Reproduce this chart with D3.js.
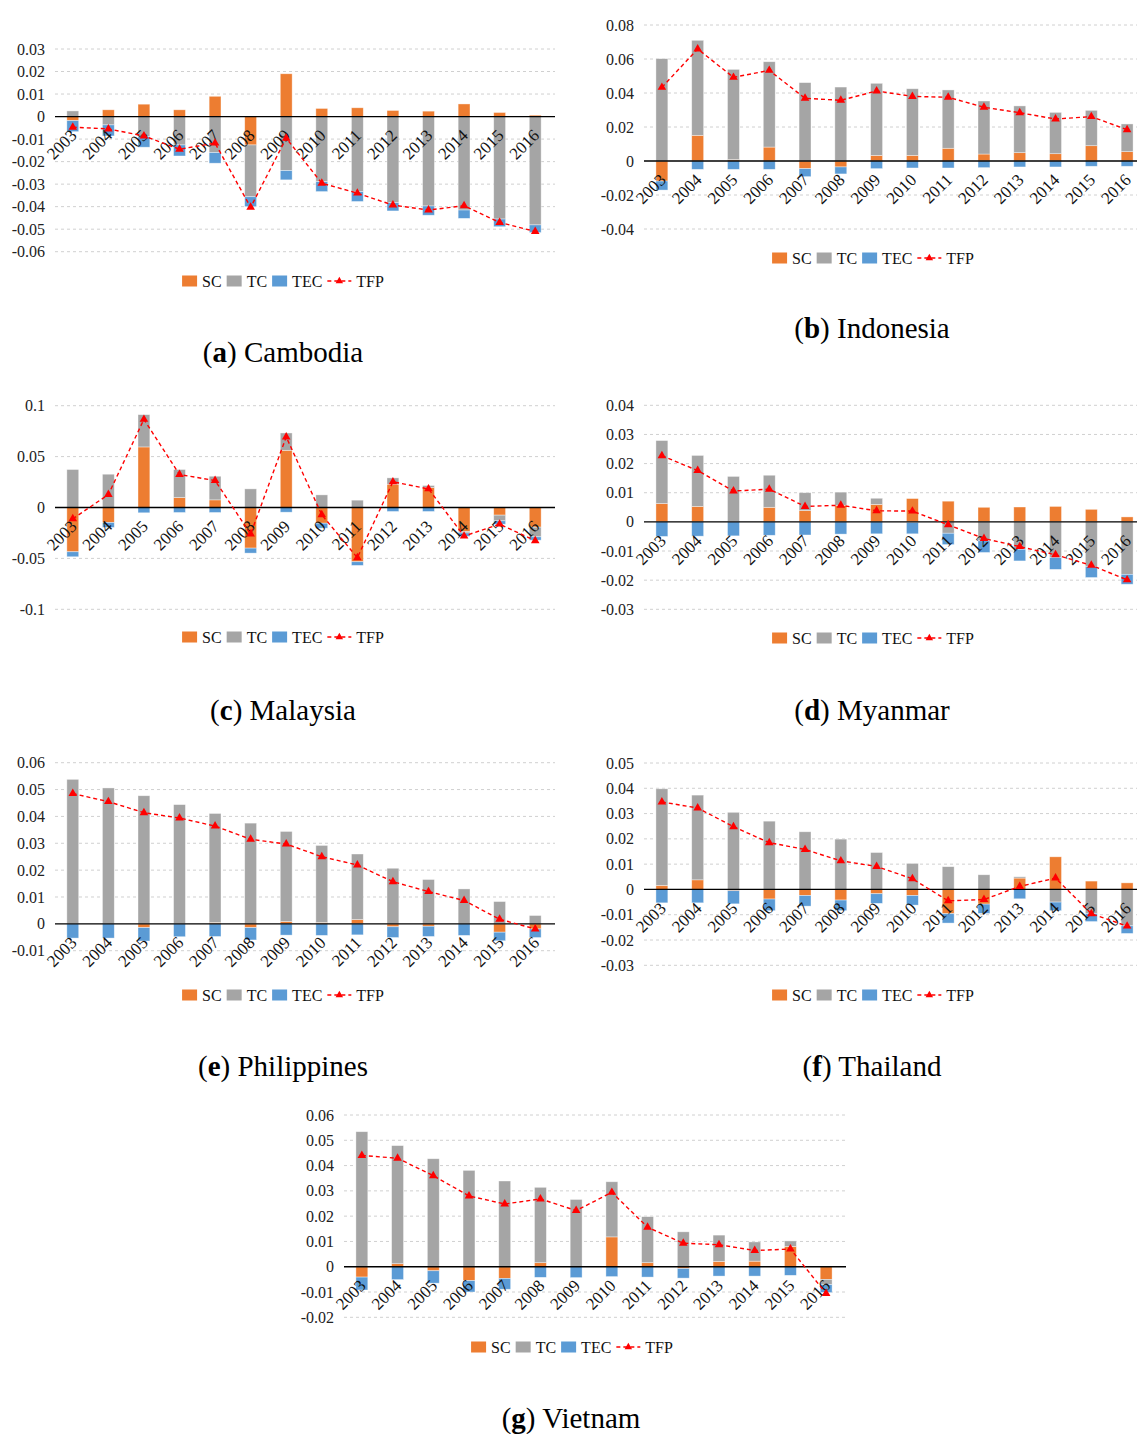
<!DOCTYPE html>
<html>
<head>
<meta charset="utf-8">
<script src="https://cdn.jsdelivr.net/npm/d3@7/dist/d3.min.js"></script>
<style>
  body { margin: 0; background: #fff; }
  svg { display: block; font-family: "Liberation Serif", "Times New Roman", serif; }
</style>
</head>
<body>
<svg width="1137" height="1434"></svg>
<script>
var years = ['2003','2004','2005','2006','2007','2008','2009','2010','2011','2012','2013','2014','2015','2016'];
var keys = ['SC', 'TC', 'TEC'];

// (a) Cambodia
var cambodiaSC  = [-0.0018, 0.003, 0.0055, 0.003, 0.009, -0.0126, 0.019, 0.0036, 0.0039, 0.0027, 0.0024, 0.0056, 0.0018, 0.0006];
var cambodiaTC  = [0.0025, -0.0037, -0.0089, -0.0126, -0.016, -0.023, -0.024, -0.0289, -0.0333, -0.0382, -0.0397, -0.0415, -0.0455, -0.0481];
var cambodiaTEC = [-0.0049, -0.0049, -0.0047, -0.0049, -0.0047, -0.0044, -0.0041, -0.0044, -0.0044, -0.0037, -0.0041, -0.0037, -0.0034, -0.0034];
var cambodiaTFP = [-0.0047, -0.0055, -0.0086, -0.0145, -0.0118, -0.0403, -0.0096, -0.0296, -0.034, -0.0393, -0.0415, -0.0396, -0.047, -0.051];
var cambodiaTicks = [0.03, 0.02, 0.01, 0, -0.01, -0.02, -0.03, -0.04, -0.05, -0.06];

// (b) Indonesia
var indonesiaSC  = [-0.0118, 0.0151, 0.0008, 0.0082, -0.0045, -0.0035, 0.0033, 0.0033, 0.0075, 0.0041, 0.0049, 0.0043, 0.009, 0.0055];
var indonesiaTC  = [0.0602, 0.0559, 0.0531, 0.0502, 0.0461, 0.0435, 0.0424, 0.0392, 0.0343, 0.0312, 0.0275, 0.0243, 0.0208, 0.0163];
var indonesiaTEC = [-0.0053, -0.0049, -0.0049, -0.0049, -0.0047, -0.0041, -0.0045, -0.0041, -0.0041, -0.0039, -0.0035, -0.0035, -0.0031, -0.0031];
var indonesiaTFP = [0.0433, 0.0659, 0.0492, 0.0533, 0.0369, 0.0357, 0.0412, 0.038, 0.0375, 0.0316, 0.0284, 0.0247, 0.0261, 0.0184];
var indonesiaTicks = [0.08, 0.06, 0.04, 0.02, 0, -0.02, -0.04];

// (c) Malaysia
var malaysiaSC  = [-0.0435, -0.0147, 0.0595, 0.0098, 0.0075, -0.0399, 0.0562, -0.0154, -0.0533, 0.0229, 0.0196, -0.0235, -0.0075, -0.0193];
var malaysiaTC  = [0.0373, 0.0327, 0.0317, 0.0275, 0.0232, 0.0183, 0.017, 0.0124, 0.0072, 0.0062, 0.002, -0.0015, -0.0056, -0.0095];
var malaysiaTEC = [-0.0049, -0.0049, -0.0052, -0.0049, -0.0049, -0.0049, -0.0046, -0.0049, -0.0036, -0.0039, -0.0039, -0.0033, -0.0033, -0.0033];
var malaysiaTFP = [-0.0111, 0.0127, 0.0866, 0.0324, 0.0265, -0.0261, 0.0693, -0.0072, -0.0493, 0.0252, 0.0183, -0.0281, -0.0163, -0.0327];
var malaysiaTicks = [0.1, 0.05, 0, -0.05, -0.1];

// (d) Myanmar
var myanmarSC  = [0.0063, 0.0053, 0.0002, 0.005, 0.0039, 0.0057, 0.006, 0.008, 0.0071, 0.005, 0.0051, 0.0053, 0.0043, 0.0017];
var myanmarTC  = [0.0216, 0.0175, 0.0154, 0.011, 0.0061, 0.0045, 0.0021, -0.0002, -0.0039, -0.0065, -0.0094, -0.0122, -0.0153, -0.018];
var myanmarTEC = [-0.005, -0.0049, -0.0048, -0.0046, -0.0045, -0.0042, -0.0041, -0.0039, -0.0039, -0.004, -0.004, -0.0041, -0.0038, -0.0034];
var myanmarTFP = [0.0227, 0.0176, 0.0106, 0.0112, 0.0053, 0.0057, 0.0038, 0.0037, -0.001, -0.0057, -0.0085, -0.0113, -0.0149, -0.0199];
var myanmarTicks = [0.04, 0.03, 0.02, 0.01, 0, -0.01, -0.02, -0.03];

// (e) Philippines
var philippinesSC  = [0, 0, -0.0014, 0, 0.0005, -0.0014, 0.0009, 0.0005, 0.0016, -0.0011, -0.0009, 0, -0.0031, -0.0019];
var philippinesTC  = [0.0538, 0.0506, 0.0477, 0.0444, 0.0406, 0.0375, 0.0335, 0.0287, 0.0244, 0.0207, 0.0165, 0.013, 0.0083, 0.0031];
var philippinesTEC = [-0.0053, -0.0053, -0.005, -0.0048, -0.0047, -0.0046, -0.0042, -0.0043, -0.0041, -0.004, -0.0038, -0.0043, -0.0032, -0.0032];
var philippinesTFP = [0.0485, 0.0455, 0.0414, 0.0394, 0.0364, 0.0315, 0.0297, 0.025, 0.0219, 0.0157, 0.012, 0.0087, 0.0017, -0.0019];
var philippinesTicks = [0.06, 0.05, 0.04, 0.03, 0.02, 0.01, 0, -0.01];

// (f) Thailand
var thailandSC  = [0.0016, 0.0038, -0.0005, -0.0038, -0.0024, -0.0042, -0.0017, -0.0024, -0.0096, -0.0058, 0.0045, 0.0129, 0.0033, 0.0026];
var thailandTC  = [0.0382, 0.0335, 0.0305, 0.027, 0.0228, 0.0199, 0.0146, 0.0103, 0.009, 0.0058, 0.0005, -0.005, -0.0095, -0.0144];
var thailandTEC = [-0.0053, -0.0053, -0.0052, -0.0046, -0.0042, -0.0042, -0.0038, -0.0038, -0.0037, -0.0037, -0.0037, -0.0034, -0.0032, -0.003];
var thailandTFP = [0.0346, 0.0322, 0.0248, 0.0185, 0.0158, 0.0113, 0.0091, 0.0042, -0.0045, -0.004, 0.0012, 0.0045, -0.0096, -0.0145];
var thailandTicks = [0.05, 0.04, 0.03, 0.02, 0.01, 0, -0.01, -0.02, -0.03];

// (g) Vietnam
var vietnamSC  = [-0.0041, 0.0012, -0.0016, -0.0055, -0.0046, 0.0016, 0, 0.0118, 0.0016, -0.0007, 0.0021, 0.0022, 0.008, -0.005];
var vietnamTC  = [0.0534, 0.0467, 0.0427, 0.0381, 0.0339, 0.0298, 0.0266, 0.0218, 0.0182, 0.0138, 0.0104, 0.0076, 0.0022, -0.0021];
var vietnamTEC = [-0.0051, -0.0051, -0.0049, -0.0045, -0.0043, -0.0042, -0.0043, -0.0039, -0.0041, -0.0038, -0.0037, -0.0037, -0.0034, -0.0031];
var vietnamTFP = [0.044, 0.0429, 0.036, 0.028, 0.0248, 0.0268, 0.0222, 0.0294, 0.0156, 0.0093, 0.0087, 0.0064, 0.007, -0.0106];
var vietnamTicks = [0.06, 0.05, 0.04, 0.03, 0.02, 0.01, 0, -0.01, -0.02];

var colors = { SC: '#ED7D31', TC: '#A5A5A5', TEC: '#5B9BD5' };
var svg = d3.select('svg');

var panels = [
  { letter: 'a', name: 'Cambodia',    sc: cambodiaSC,    tc: cambodiaTC,    tec: cambodiaTEC,    tfp: cambodiaTFP,    ticks: cambodiaTicks,
    x0: 55, x1: 553, yTop: 49, yBot: 251.7, legX: 283, legY: 281, capX: 283, capY: 352 },
  { letter: 'b', name: 'Indonesia',   sc: indonesiaSC,   tc: indonesiaTC,   tec: indonesiaTEC,   tfp: indonesiaTFP,   ticks: indonesiaTicks,
    x0: 644, x1: 1145, yTop: 25, yBot: 229, legX: 873, legY: 258, capX: 872, capY: 328 },
  { letter: 'c', name: 'Malaysia',    sc: malaysiaSC,    tc: malaysiaTC,    tec: malaysiaTEC,    tfp: malaysiaTFP,    ticks: malaysiaTicks,
    x0: 55, x1: 553, yTop: 405.7, yBot: 609.3, legX: 283, legY: 637, capX: 283, capY: 710 },
  { letter: 'd', name: 'Myanmar',     sc: myanmarSC,     tc: myanmarTC,     tec: myanmarTEC,     tfp: myanmarTFP,     ticks: myanmarTicks,
    x0: 644, x1: 1145, yTop: 405.3, yBot: 609.3, legX: 873, legY: 638, capX: 872, capY: 710 },
  { letter: 'e', name: 'Philippines', sc: philippinesSC, tc: philippinesTC, tec: philippinesTEC, tfp: philippinesTFP, ticks: philippinesTicks,
    x0: 55, x1: 553, yTop: 762.7, yBot: 950.7, legX: 283, legY: 995, capX: 283, capY: 1066 },
  { letter: 'f', name: 'Thailand',    sc: thailandSC,    tc: thailandTC,    tec: thailandTEC,    tfp: thailandTFP,    ticks: thailandTicks,
    x0: 644, x1: 1145, yTop: 763, yBot: 965.3, legX: 873, legY: 995, capX: 872, capY: 1066 },
  { letter: 'g', name: 'Vietnam',     sc: vietnamSC,     tc: vietnamTC,     tec: vietnamTEC,     tfp: vietnamTFP,     ticks: vietnamTicks,
    x0: 344, x1: 844, yTop: 1115, yBot: 1317.3, legX: 572, legY: 1347, capX: 571, capY: 1418 }
];

panels.forEach(drawPanel);

function drawPanel(p) {
  var g = svg.append('g');
  var x = d3.scaleBand().domain(years).range([p.x0, p.x1]).paddingInner(2 / 3).paddingOuter(1 / 3);
  var y = d3.scaleLinear().domain([d3.min(p.ticks), d3.max(p.ticks)]).range([p.yBot, p.yTop]);

  // gridlines
  g.selectAll('.grid')
    .data(p.ticks.filter(function(t) { return t !== 0; }))
    .enter().append('line')
    .attr('x1', p.x0).attr('x2', p.x1 + 2)
    .attr('y1', function(d) { return y(d); })
    .attr('y2', function(d) { return y(d); })
    .attr('stroke', '#d0d0d0')
    .attr('stroke-width', 1)
    .attr('stroke-dasharray', '3,3');

  // y tick labels
  g.selectAll('.ylab')
    .data(p.ticks)
    .enter().append('text')
    .attr('x', p.x0 - 10)
    .attr('y', function(d) { return y(d); })
    .attr('dy', '0.35em')
    .attr('text-anchor', 'end')
    .attr('font-size', 16)
    .attr('fill', '#222')
    .text(function(d) { return d; });

  var rows = years.map(function(yr, i) {
    return { year: yr, SC: p.sc[i], TC: p.tc[i], TEC: p.tec[i] };
  });
  var series = d3.stack().keys(keys).offset(d3.stackOffsetDiverging)(rows);

  g.selectAll('.series')
    .data(series)
    .enter().append('g')
    .attr('fill', function(d) { return colors[d.key]; })
    .selectAll('rect')
    .data(function(d) { return d; })
    .enter().append('rect')
    .attr('x', function(d) { return x(d.data.year); })
    .attr('width', x.bandwidth())
    .attr('y', function(d) { return y(Math.max(d[0], d[1])); })
    .attr('height', function(d) { return Math.abs(y(d[0]) - y(d[1])); })
    .attr('stroke', 'rgba(255,255,255,0.55)')
    .attr('stroke-width', 0.7);

  // zero axis
  g.append('line')
    .attr('x1', p.x0).attr('x2', p.x1 + 2)
    .attr('y1', y(0)).attr('y2', y(0))
    .attr('stroke', '#000')
    .attr('stroke-width', 1.3);

  // year labels, rotated
  g.selectAll('.xlab')
    .data(years)
    .enter().append('text')
    .attr('transform', function(d) {
      return 'translate(' + (x(d) + x.bandwidth() / 2 + 5) + ',' + (y(0) + 20) + ') rotate(-45)';
    })
    .attr('text-anchor', 'end')
    .attr('font-size', 17)
    .attr('fill', '#111')
    .text(function(d) { return d; });

  // TFP line
  var line = d3.line()
    .x(function(d, i) { return x(years[i]) + x.bandwidth() / 2; })
    .y(function(d) { return y(d); });

  g.append('path')
    .datum(p.tfp)
    .attr('d', line)
    .attr('fill', 'none')
    .attr('stroke', '#FF0000')
    .attr('stroke-width', 1.4)
    .attr('stroke-dasharray', '4,3');

  g.selectAll('.mark')
    .data(p.tfp)
    .enter().append('path')
    .attr('d', d3.symbol().type(d3.symbolTriangle).size(32))
    .attr('transform', function(d, i) {
      return 'translate(' + (x(years[i]) + x.bandwidth() / 2) + ',' + y(d) + ')';
    })
    .attr('fill', '#FF0000');

  drawLegend(g, p.legX, p.legY);

  // caption
  var cap = svg.append('text')
    .attr('x', p.capX)
    .attr('y', p.capY)
    .attr('dy', '0.35em')
    .attr('text-anchor', 'middle')
    .attr('font-size', 29)
    .attr('fill', '#000');
  cap.append('tspan').text('(');
  cap.append('tspan').attr('font-weight', 'bold').text(p.letter);
  cap.append('tspan').text(') ' + p.name);
}

function drawLegend(g, cx, cy) {
  var lg = g.append('g');
  var pos = 0;
  keys.concat(['TFP']).forEach(function(k) {
    var item = lg.append('g').attr('transform', 'translate(' + pos + ',0)');
    var w;
    if (k === 'TFP') {
      item.append('line')
        .attr('x1', 0).attr('x2', 24).attr('y1', 0).attr('y2', 0)
        .attr('stroke', '#FF0000').attr('stroke-width', 1.4)
        .attr('stroke-dasharray', '4,3');
      item.append('path')
        .attr('d', d3.symbol().type(d3.symbolTriangle).size(24))
        .attr('transform', 'translate(12,0)')
        .attr('fill', '#FF0000');
      w = 24;
    } else {
      item.append('rect')
        .attr('x', 0).attr('y', -5.5)
        .attr('width', 15).attr('height', 11)
        .attr('fill', colors[k]);
      w = 15;
    }
    var t = item.append('text')
      .attr('x', w + 5)
      .attr('dy', '0.35em')
      .attr('font-size', 16)
      .attr('fill', '#111')
      .text(k);
    pos += w + 5 + t.node().getComputedTextLength() + 5;
  });
  lg.attr('transform', 'translate(' + (cx - (pos - 5) / 2) + ',' + cy + ')');
}
</script>
</body>
</html>
